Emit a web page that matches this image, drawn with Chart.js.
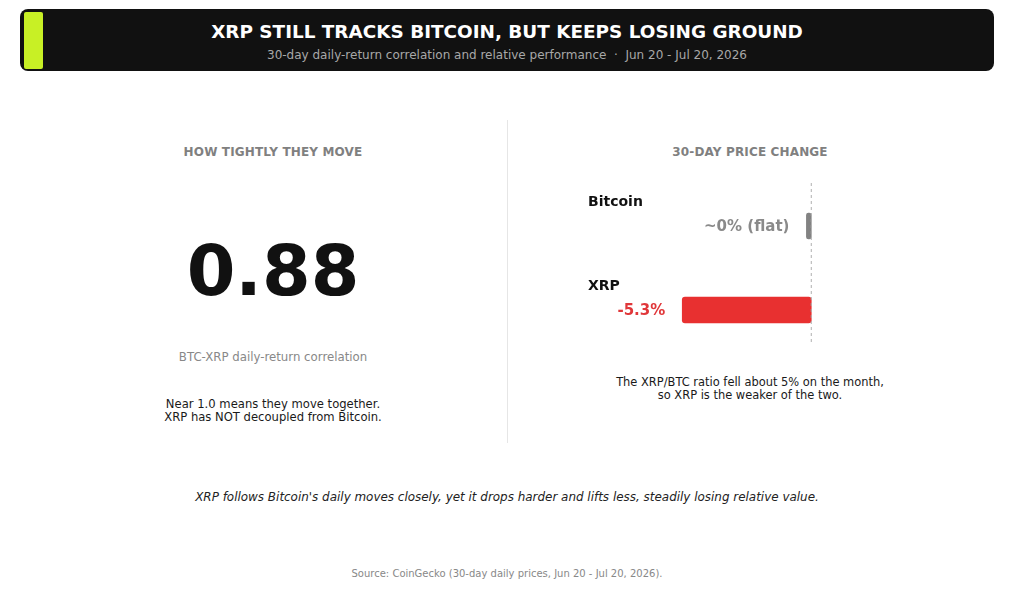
<!DOCTYPE html>
<html>
<head>
<meta charset="utf-8">
<script src="https://cdn.jsdelivr.net/npm/chart.js@4"></script>
<style>
  html, body { margin:0; padding:0; background:#fff; }
  body { width:1014px; height:600px; position:relative; overflow:hidden; font-family:"DejaVu Sans", sans-serif; }
  .abs { position:absolute; white-space:nowrap; }
  #hdr { left:20px; top:9px; width:974px; height:62px; background:#111111; border-radius:8px; }
  #acc { left:24px; top:12px; width:19px; height:57px; background:#c8f025; border-radius:2px; }
  #title { left:20px; width:974px; top:21px; text-align:center; color:#fff; font-weight:bold; font-size:18.4px; }
  #sub { left:20px; width:974px; top:48px; text-align:center; color:#a8a8a8; font-size:12px; }
  .ph { font-weight:bold; font-size:12px; color:#808080; letter-spacing:0.15px; text-align:center; }
  #lh { left:73px; width:400px; top:145px; }
  #rh { left:550px; width:400px; top:145px; }
  #big { left:73px; width:400px; top:236px; text-align:center; font-weight:bold; font-size:70px; color:#111; line-height:1; }
  #corr { left:73px; width:400px; top:350px; text-align:center; font-size:11.75px; color:#888; }
  #note { left:73px; width:400px; top:398px; text-align:center; font-size:11.6px; color:#1a1a1a; line-height:13px; }
  #div { left:507px; top:120px; width:1px; height:323px; background:#e6e6e6; }
  #rnote { left:550px; width:400px; top:376px; text-align:center; font-size:11.45px; color:#1a1a1a; line-height:13px; }
  #foot { left:0; width:1014px; top:490px; text-align:center; font-style:italic; font-size:11.95px; color:#222; }
  #src { left:0; width:1014px; top:568px; text-align:center; font-size:10px; color:#888; }
  #cw { left:580px; top:180px; width:260px; height:175px; }
</style>
</head>
<body>
<div class="abs" id="hdr"></div>
<div class="abs" id="acc"></div>
<div class="abs" id="title">XRP STILL TRACKS BITCOIN, BUT KEEPS LOSING GROUND</div>
<div class="abs" id="sub">30-day daily-return correlation and relative performance &nbsp;·&nbsp; Jun 20 - Jul 20, 2026</div>

<div class="abs ph" id="lh">HOW TIGHTLY THEY MOVE</div>
<div class="abs" id="big"></div>
<div class="abs" id="corr">BTC-XRP daily-return correlation</div>
<div class="abs" id="note">Near 1.0 means they move together.<br>XRP has NOT decoupled from Bitcoin.</div>

<div class="abs" id="div"></div>

<div class="abs ph" id="rh">30-DAY PRICE CHANGE</div>
<div class="abs" id="cw"><canvas id="c"></canvas></div>
<div class="abs" id="rnote">The XRP/BTC ratio fell about 5% on the month,<br>so XRP is the weaker of the two.</div>

<div class="abs" id="foot">XRP follows Bitcoin's daily moves closely, yet it drops harder and lifts less, steadily losing relative value.</div>
<div class="abs" id="src">Source: CoinGecko (30-day daily prices, Jun 20 - Jul 20, 2026).</div>

<script>
// ---- data ----
const correlation = 0.88;
const assets = ["Bitcoin", "XRP"];
const priceChange = [-0.2, -5.3];
const valueLabels = ["~0% (flat)", "-5.3%"];
const barColors = ["#828282", "#e83030"];
const labelColors = ["#8a8a8a", "#e0373a"];

document.getElementById('big').textContent = correlation.toFixed(2);

const labelPlugin = {
  id: 'labelPlugin',
  afterDatasetsDraw(chart) {
    const ctx = chart.ctx;
    const xs = chart.scales.x, ys = chart.scales.y;
    const x0 = xs.getPixelForValue(0);
    ctx.save();
    ctx.strokeStyle = '#b0b0b0';
    ctx.lineWidth = 1;
    ctx.setLineDash([3, 3]);
    ctx.beginPath();
    ctx.moveTo(x0, chart.chartArea.top - 1);
    ctx.lineTo(x0, ys.getPixelForValue(1) + 33);
    ctx.stroke();
    ctx.setLineDash([]);
    const meta = chart.getDatasetMeta(0);
    meta.data.forEach((bar, i) => {
      const yc = ys.getPixelForValue(i);
      ctx.fillStyle = '#111';
      ctx.font = 'bold 14px "DejaVu Sans"';
      ctx.textAlign = 'left';
      ctx.textBaseline = 'middle';
      ctx.fillText(assets[i], 8, yc - 24);
      const left = Math.min(bar.x, bar.base);
      ctx.fillStyle = labelColors[i];
      ctx.font = 'bold 15px "DejaVu Sans"';
      ctx.textAlign = 'right';
      ctx.fillText(valueLabels[i], left - 17, yc + 1);
    });
    ctx.restore();
  }
};

new Chart(document.getElementById('c'), {
  type: 'bar',
  data: {
    labels: assets,
    datasets: [{
      data: priceChange,
      backgroundColor: barColors,
      borderRadius: 3,
      borderSkipped: false,
      barThickness: 26
    }]
  },
  options: {
    indexAxis: 'y',
    responsive: true,
    maintainAspectRatio: false,
    animation: false,
    layout: { padding: { top: 4, bottom: 3, left: 0, right: 0 } },
    plugins: { legend: { display: false }, tooltip: { enabled: false } },
    scales: {
      x: { display: false, min: -9.5, max: 1.18 },
      y: { display: false }
    }
  },
  plugins: [labelPlugin]
});
</script>
</body>
</html>
